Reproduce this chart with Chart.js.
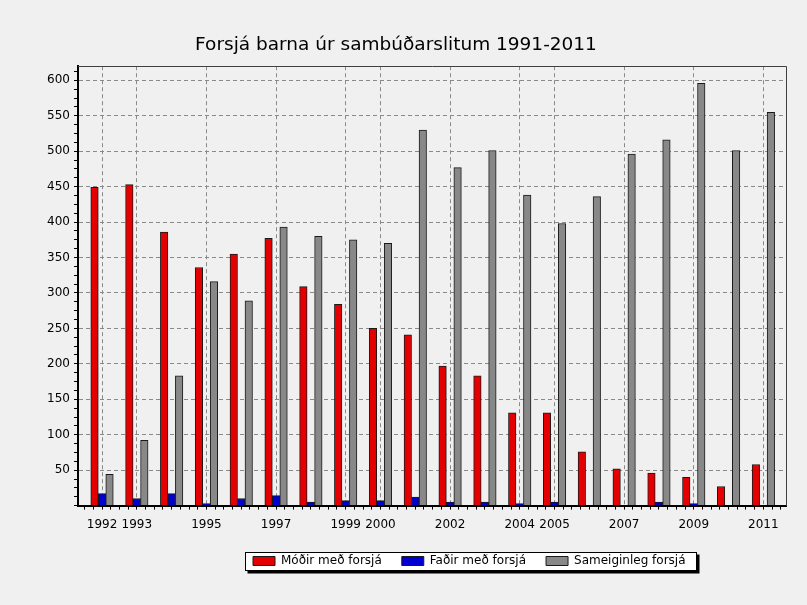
<!DOCTYPE html>
<html>
<head>
<meta charset="utf-8">
<script src="https://cdn.jsdelivr.net/npm/chart.js@4.4.0/dist/chart.umd.min.js"></script>
<style>
  html, body { margin: 0; padding: 0; background: #f0f0f0; }
  #wrap { width: 807px; height: 605px; }
</style>
</head>
<body>
<div id="wrap"><canvas id="c" width="807" height="605"></canvas></div>
<script>
// ---- data ----
const years = [1992, 1993, 1994, 1995, 1996, 1997, 1998, 1999, 2000, 2001,
               2002, 2003, 2004, 2005, 2006, 2007, 2008, 2009, 2010, 2011];
const modir = [449, 453, 386, 336, 355, 377, 309, 284, 250, 241,
               197, 183, 131, 131, 76, 52, 46, 40, 27, 58];
const fadir = [17, 10, 17, 3, 10, 14, 5, 7, 7, 12,
               5, 5, 3, 5, 0, 0, 5, 3, 0, 0];
const sameig = [44, 92, 183, 316, 289, 393, 380, 375, 370, 530,
                477, 501, 438, 398, 436, 496, 516, 596, 501, 555];
const xLabelYears = [1992, 1993, 1995, 1997, 1999, 2000, 2002, 2004, 2005, 2007, 2009, 2011];
const yLabelValues = [50, 100, 150, 200, 250, 300, 350, 400, 450, 500, 550, 600];
const seriesNames = ['Móðir með forsjá', 'Faðir með forsjá', 'Sameiginleg forsjá'];
const titleText = 'Forsjá barna úr sambúðarslitum 1991-2011';

const toPts = arr => years.map((y, i) => ({ x: y, y: arr[i] }));

Chart.defaults.font.family = "'DejaVu Sans', sans-serif";
Chart.defaults.font.size = 12;
Chart.defaults.color = '#000';

const framePlugin = {
  id: 'frame',
  afterLayout(chart) {
    const lg = chart.legend;
    const pad = lg.options.labels.padding;
    const w = lg.right - lg.left;
    lg.left = 253 - pad;
    lg.right = lg.left + w;
    lg.top -= 5; lg.bottom -= 5;
    const tb = chart.titleBlock;
    tb.left += 3; tb.right += 3;
  },
  beforeDraw(chart) {
    const ctx = chart.ctx;
    ctx.save();
    ctx.fillStyle = '#f0f0f0';
    ctx.fillRect(0, 0, chart.width, chart.height);
    const hb = chart.legend.legendHitBoxes;
    if (hb && hb.length) {
      let l = Infinity, r = -Infinity, t = Infinity, b = -Infinity;
      hb.forEach(h => { l = Math.min(l, h.left); r = Math.max(r, h.left + h.width);
                        t = Math.min(t, h.top); b = Math.max(b, h.top + h.height); });
      const x0 = Math.round(l - 8) + 0.5, x1 = Math.round(r + 10) + 0.5;
      const y0 = Math.round(t - 3) + 0.5, y1 = Math.round(b + 3) + 0.5;
      ctx.fillStyle = '#000';
      ctx.fillRect(x0 + 2, y0 + 2, x1 - x0 + 1, y1 - y0 + 1);
      ctx.fillStyle = '#ffffff';
      ctx.fillRect(x0, y0, x1 - x0, y1 - y0);
      ctx.strokeStyle = '#000';
      ctx.lineWidth = 1;
      ctx.strokeRect(x0, y0, x1 - x0, y1 - y0);
    }
    ctx.restore();
  },
  afterDraw(chart) {
    const ctx = chart.ctx, a = chart.chartArea;
    ctx.save();
    ctx.strokeStyle = '#404040';
    ctx.lineWidth = 1;
    ctx.beginPath();
    ctx.moveTo(a.left, Math.round(a.top) + 0.5);
    ctx.lineTo(Math.round(a.right) + 0.5, Math.round(a.top) + 0.5);
    ctx.lineTo(Math.round(a.right) + 0.5, a.bottom);
    ctx.stroke();
    ctx.restore();
  }
};

new Chart(document.getElementById('c'), {
  type: 'bar',
  data: {
    datasets: [
      { label: seriesNames[0], data: toPts(modir), backgroundColor: '#e40000', borderColor: '#1a1a1a', borderWidth: 1 },
      { label: seriesNames[1], data: toPts(fadir), backgroundColor: '#0000d0', borderColor: '#1a1a1a', borderWidth: 1 },
      { label: seriesNames[2], data: toPts(sameig), backgroundColor: '#888888', borderColor: '#1a1a1a', borderWidth: 1 }
    ]
  },
  plugins: [framePlugin],
  options: {
    responsive: false,
    animation: false,
    layout: { padding: { left: 0, right: 21, top: 0, bottom: 23 } },
    datasets: { bar: { barThickness: 7.5 } },
    scales: {
      x: {
        type: 'linear',
        offset: false,
        min: 1991.31,
        max: 2011.65,
        afterBuildTicks: s => {
          const t = [];
          for (let v = 1991.5; v <= 2011.5; v += 0.25) t.push({ value: v });
          s.ticks = t;
        },
        ticks: {
          autoSkip: false, maxRotation: 0, padding: 8,
          callback: v => xLabelYears.includes(v) ? String(v) : ''
        },
        grid: {
          offset: false,
          color: c => (c.tick && xLabelYears.includes(c.tick.value)) ? '#8a8a8a' : 'rgba(0,0,0,0)',
          tickColor: '#000',
          tickLength: 4,
          lineWidth: 1
        },
        border: { color: '#000', width: 2, dash: [4, 3] }
      },
      y: {
        min: 0,
        max: 620,
        afterBuildTicks: s => {
          const t = [];
          for (let v = 0; v <= 612.5; v += 12.5) t.push({ value: v });
          s.ticks = t;
        },
        afterFit: s => { s.width = 78; },
        ticks: {
          autoSkip: false, padding: 4,
          callback: v => yLabelValues.includes(v) ? String(v) : ''
        },
        grid: {
          color: c => (c.tick && yLabelValues.includes(c.tick.value)) ? '#8a8a8a' : 'rgba(0,0,0,0)',
          tickColor: '#000',
          tickLength: 4,
          lineWidth: 1
        },
        border: { color: '#000', width: 2, dash: [4, 3] }
      }
    },
    plugins: {
      title: {
        display: true,
        text: titleText,
        font: { size: 18.5, weight: 'normal' },
        color: '#000',
        padding: { top: 34, bottom: 10 }
      },
      legend: {
        position: 'bottom',
        align: 'start',
        labels: { boxWidth: 22, boxHeight: 9, padding: 20, font: { size: 12 }, color: '#000' }
      },
      tooltip: { enabled: false }
    }
  }
});
</script>
</body>
</html>
